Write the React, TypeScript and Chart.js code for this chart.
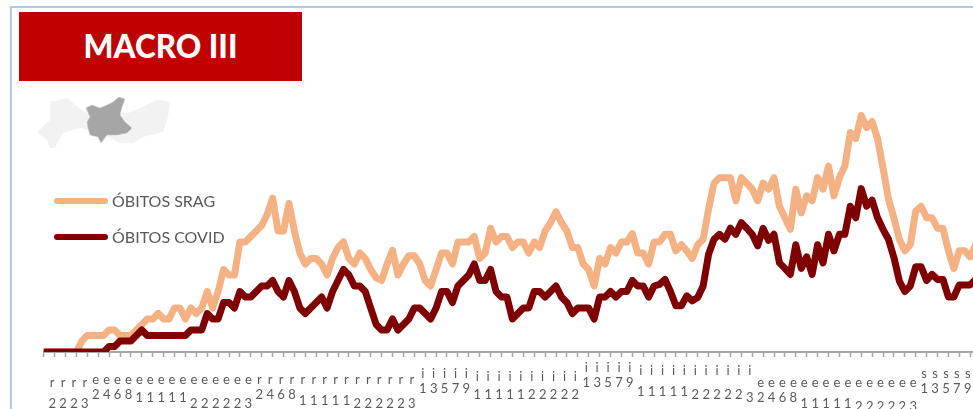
import React, { useEffect, useRef } from "react";
import { Chart, registerables } from "chart.js";

Chart.register(...registerables);

const obitosSrag = [
  0, 0, 0, 0, 0, 0, 0, 2, 3, 3, 3, 3, 4, 4, 3, 3, 3, 4, 5, 6, 6, 7, 6, 6, 8, 8, 6, 8, 7, 8,
  11, 8, 11, 15, 14, 14, 20, 20, 21, 22, 23, 25, 28, 22, 22, 27, 22, 18, 16, 17, 17, 16, 14, 17, 19, 20, 17, 16, 18, 17,
  15, 13.5, 13, 16, 18.5, 14, 16, 17.5, 17.5, 16, 13, 12, 15, 18, 18, 16, 20, 20, 20, 21, 17, 18, 22.5, 20, 21, 21, 19, 20, 20, 18,
  20, 19, 22, 23.5, 25.5, 23.5, 22, 19, 19, 16, 15, 12, 17, 16, 19, 18, 20, 20, 21.5, 18, 18, 16, 20, 20, 21.4, 21.4, 18.4, 19.5, 18.4, 17,
  19.5, 20.5, 26, 30.7, 31.7, 31.7, 31.7, 27.5, 31.7, 30.7, 29.6, 27.5, 30.7, 29.6, 31.7, 26.5, 24.4, 22.3, 29.6, 25.3, 28.4, 27.5, 31.7, 29.6, 33.8, 28.4, 31.7, 33.8, 39.9, 38.8,
  43, 40.8, 41.9, 38.8, 33.5, 27.8, 24.4, 20.5, 18.4, 19.5, 25.6, 26.5, 24.4, 24.4, 22.5, 22.5, 18.4, 15.2, 18.4, 18.4, 17.3, 19.5, 20,
];
const obitosCovid = [
  0, 0, 0, 0, 0, 0, 0, 0, 0, 0, 0, 0, 1, 1, 2, 2, 2, 3, 4, 3, 3, 3, 3, 3, 3, 3, 3, 4, 4, 4,
  7, 6, 6, 9, 9, 8, 11, 10, 10, 11, 12, 12, 13, 11, 10, 13, 11, 8, 7, 8, 9, 10, 8, 11, 13, 15, 14, 12, 12, 11,
  8, 5, 4, 4, 6, 4, 5, 6, 8, 8, 7, 6, 8, 11, 11, 9, 12, 13, 14, 16, 13, 13, 15, 11, 10, 10, 6, 7, 8, 8,
  11, 11, 10, 11, 12, 10, 9, 7, 8, 8, 8, 6, 10, 10, 11, 10, 11, 11, 13, 12, 12, 10, 12, 12.3, 13.2, 11, 8.4, 8.4, 10.2, 9.3,
  9.9, 12, 17.8, 20.5, 21.4, 20.5, 22.5, 21.4, 23.5, 22.5, 21.4, 19.3, 22.5, 20.3, 21.4, 16.2, 15.2, 14.1, 19.5, 15.2, 17.3, 14.1, 19.5, 16.2, 21.4, 18.4, 21.4, 21.4, 26.5, 24.4,
  29.7, 26.5, 27.6, 24.4, 22.3, 20.5, 17.2, 12.9, 11, 12, 15.5, 15.5, 13, 14.1, 13.2, 13.2, 10, 10, 12.2, 12.2, 12.2, 13.2, 13.5,
];

// Every second day carries a label: the first glyph and the first day digit, as far as the picture shows them.
const tickMonth = [
  "r", "r", "r", "r",
  "e", "e", "e", "e", "e", "e", "e", "e", "e", "e", "e", "e", "e", "e", "e",
  "r", "r", "r", "r", "r", "r", "r", "r", "r", "r", "r", "r", "r", "r", "r",
  "i", "i", "i", "i", "i", "i", "i", "i", "i", "i", "i", "i", "i", "i", "i",
  "i", "i", "i", "i", "i", "i", "i", "i", "i", "i", "i", "i", "i", "i", "i", "i",
  "e", "e", "e", "e", "e", "e", "e", "e", "e", "e", "e", "e", "e", "e", "e",
  "s", "s", "s", "s", "s",
];
const tickDay = [
  "2", "2", "2", "3",
  "2", "4", "6", "8", "1", "1", "1", "1", "1", "2", "2", "2", "2", "2", "3",
  "2", "4", "6", "8", "1", "1", "1", "1", "1", "2", "2", "2", "2", "2", "3",
  "1", "3", "5", "7", "9", "1", "1", "1", "1", "1", "2", "2", "2", "2", "2",
  "1", "3", "5", "7", "9", "1", "1", "1", "1", "1", "2", "2", "2", "2", "2", "3",
  "2", "4", "6", "8", "1", "1", "1", "1", "1", "2", "2", "2", "2", "2", "3",
  "1", "3", "5", "7", "9",
];

const legendLabels = ["ÓBITOS SRAG", "ÓBITOS COVID"];
const titleText = "MACRO III";

const PEACH = "#f4b183";
const DARK = "#7f0000";
const AXIS = "#a6a6a6";
const TEXT = "#595959";

// Vertical placement of each stacked label, by run of columns: [last column, top glyph y, day digit y].
const labelRuns: [number, number, number][] = [
  [3, 381, 402], [7, 377, 392], [12, 377, 397], [18, 377, 401], [22, 379, 392], [27, 379, 399],
  [33, 379, 401], [38, 371, 387], [48, 374, 394], [53, 366, 382], [58, 368, 389], [63, 368, 394],
  [64, 368, 396], [68, 380, 396], [73, 380, 401], [79, 380, 404], [84, 373, 386],
];

const ROW = 3;
const ROW0 = 357;

function labelFor(col: number): string[] {
  const run = labelRuns.find((r) => col <= r[0]) ?? labelRuns[labelRuns.length - 1];
  const a = Math.round((run[1] - ROW0) / ROW);
  const b = Math.round((run[2] - ROW0) / ROW);
  const lines: string[] = [];
  for (let i = 0; i <= b; i++) lines.push(i === a ? tickMonth[col] : i === b ? tickDay[col] : "");
  return lines;
}

const days = obitosSrag.map((_, i) => String(i));

export default function App() {
  const ref = useRef<HTMLCanvasElement>(null);
  useEffect(() => {
    const chart = new Chart(ref.current!, {
      type: "line",
      data: {
        labels: days,
        datasets: [
          { label: legendLabels[0], data: obitosSrag, borderColor: PEACH, order: 2 },
          { label: legendLabels[1], data: obitosCovid, borderColor: DARK, order: 1 },
        ],
      },
      options: {
        responsive: false,
        animation: false,
        layout: { padding: { left: 43.7, top: 88, right: 0.9, bottom: 0 } },
        elements: {
          point: { radius: 0 },
          line: { borderWidth: 7, tension: 0, borderJoinStyle: "round", borderCapStyle: "butt" },
        },
        plugins: { legend: { display: false }, tooltip: { enabled: false }, title: { display: false } },
        scales: {
          y: { display: false, min: 0, max: 48 },
          x: {
            offset: false,
            afterFit: (s: any) => { s.height = 57; },
            border: { color: AXIS, width: 2 },
            grid: {
              drawOnChartArea: false,
              tickLength: 5,
              tickWidth: 1.5,
              tickColor: (c: any) => (c.index % 2 === 0 ? AXIS : "rgba(0,0,0,0)"),
            },
            ticks: {
              autoSkip: false,
              minRotation: 0,
              maxRotation: 0,
              padding: 0,
              labelOffset: 3,
              color: TEXT,
              font: { family: "'Liberation Sans Narrow', Lato", size: 13, lineHeight: "3px" },
              callback: (_: any, i: number) => {
                if (i % 2 === 0) return "";
                const col = (i - 1) / 2;
                return col < tickMonth.length ? labelFor(col) : "";
              },
            },
          },
        },
      } as any,
    });
    return () => chart.destroy();
  }, []);

  const legendRow = (text: string, color: string, y: number) => (
    <React.Fragment key={text}>
      <div style={{ position: "absolute", left: 54, top: y - 3, width: 54, height: 6, borderRadius: 3, background: color }} />
      <div style={{ position: "absolute", left: 112, top: y - 11, height: 22, lineHeight: "22px", fontFamily: "Lato", fontSize: 16, color: TEXT, whiteSpace: "nowrap" }}>{text}</div>
    </React.Fragment>
  );

  return (
    <div style={{ position: "fixed", left: 0, top: 0, width: 973, height: 409, overflow: "hidden", background: "#fff" }}>
      <div style={{ position: "absolute", left: 10, top: 6, width: 1000, height: 600, borderLeft: "2.5px solid #b4c7e7", borderTop: "2.5px solid #b4c7e7" }} />
      <canvas ref={ref} width={982} height={409} style={{ position: "absolute", left: 0, top: 0, display: "block" }} />
      <div style={{ position: "absolute", left: 19, top: 12, width: 283, height: 69, background: "#c00000", color: "#fff", fontFamily: "Lato", fontWeight: 900, fontSize: 31.5, lineHeight: "69px", textAlign: "center" }}>{titleText}</div>
      <svg width={150} height={60} viewBox="30 92 150 60" style={{ position: "absolute", left: 30, top: 92 }}>
        <polygon fill="#f2f2f2" points="50,102 68,98 78,107 86,113 128,113 143,107 157,100 170,102 168,117 163,132 143,137 133,143 120,143 100,133 80,128 63,133 58,142 55,148 50,148 47,140 37,132 50,120" />
        <polygon fill="#a6a6a6" stroke="#c8c8c8" strokeWidth="0.5" points="86,108 92,105 100,108 107,105 113,102 119,97 125,99 122,107 120,115 125,122 132,128 127,133 117,135 107,135 101,143 98,137 90,135 88,128 87,122 90,117" />
      </svg>
      {legendRow(legendLabels[0], PEACH, 201)}
      {legendRow(legendLabels[1], DARK, 237)}
    </div>
  );
}
